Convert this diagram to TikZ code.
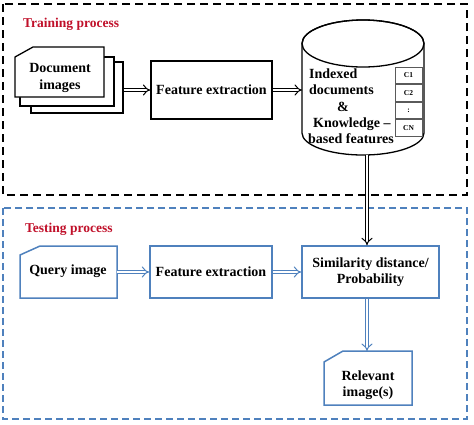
\documentclass[tikz,border=0pt]{standalone}
\usepackage{fontspec}
\setmainfont{Liberation Serif}
\usetikzlibrary{arrows.meta,calc,positioning}
\definecolor{boxblue}{RGB}{79,129,189}
\definecolor{titlered}{RGB}{192,16,42}
\definecolor{cellgray}{RGB}{90,90,90}
\begin{document}
\begin{tikzpicture}[x=1pt,y=1pt,
  txt/.style={font=\fontsize{14}{16.5}\selectfont\bfseries, align=center, inner sep=0pt},
  ttl/.style={font=\fontsize{13.5}{16}\selectfont\bfseries, text=titlered, anchor=west, inner sep=0pt},
  blackbox/.style={draw=black, line width=1.3pt, fill=white},
  bluebox/.style={draw=boxblue, line width=1.5pt, fill=white, line join=miter},
  blkarrow/.style={draw=black, double=white, double distance=2.8pt, line width=1pt, -{Implies[scale=1.3]}},
  bluarrow/.style={draw=boxblue, double=white, double distance=2.8pt, line width=1pt, -{Implies[scale=1.3]}},
  cell/.style={draw=cellgray, line width=0.8pt, minimum width=27pt, minimum height=16.75pt, inner sep=0pt, font=\fontsize{7.5}{8}\selectfont\bfseries}
]
\useasboundingbox (0,0) rectangle (474,-424);

% group frames
\draw[black, line width=1.5pt, dash pattern=on 8pt off 5pt] (3,-4) rectangle (467,-195);
\draw[boxblue, line width=1.3pt, dash pattern=on 7pt off 4pt] (3,-208) rectangle (467,-419);

\node[ttl] (ttrain) at (23,-24) {Training process};
\node[ttl] (ttest) at (25,-229) {Testing process};

% document stack
\node[blackbox, minimum width=92pt, minimum height=51pt, inner sep=0pt] (doc3) at (77,-87.5) {};
\node[blackbox, minimum width=94pt, minimum height=49pt, inner sep=0pt] (doc2) at (67,-81.5) {};
\draw[blackbox] (15,-57) -- (33,-47) -- (104,-47) -- (104,-97) -- (15,-97) -- cycle;
\node[txt] (doc1) at (60,-78) {Document\\images};

% training feature extraction
\node[blackbox, minimum width=121pt, minimum height=58pt, inner sep=0pt] (fe1) at (211.5,-90) {};
\node[txt] (fe1t) at (fe1) {Feature extraction};

% cylinder
\draw[blackbox] (302,-43.5) -- (302,-133) arc[start angle=180, end angle=360, x radius=61, y radius=22] -- (424,-43.5) arc[start angle=0, end angle=180, x radius=61, y radius=23.5];
\draw[black, line width=1.3pt] (363,-43.5) ellipse[x radius=61, y radius=23.5];
\coordinate (cylW) at (302,-90);
\coordinate (cylS) at (367,-155);

\node[cell] (c1) at (408.5,-75.4) {C1};
\node[cell, below=0pt of c1] (c2) {C2};
\node[cell, below=0pt of c2] (c3) {:};
\node[cell, below=0pt of c3] (c4) {CN};

\node[txt, anchor=base west] (l1) at (309,-78) {Indexed};
\node[txt, anchor=base west] (l2) at (309,-94.5) {documents};
\node[txt, anchor=base west] (l3) at (337,-111) {\&};
\node[txt, anchor=base west] (l4) at (313,-127.5) {Knowledge –};
\node[txt, anchor=base west] (l5) at (308,-143) {based features};

% testing
\draw[bluebox] (20,-255) -- (40,-246) -- (117,-246) -- (117,-298) -- (20,-298) -- cycle;
\node[txt] (query) at (68,-271) {Query image};
\coordinate (queryE) at (117,-272);

\node[bluebox, minimum width=122pt, minimum height=52pt, inner sep=0pt] (fe2) at (211,-272) {};
\node[txt] (fe2t) at (fe2) {Feature extraction};

\node[bluebox, minimum width=137pt, minimum height=52pt, inner sep=0pt] (sim) at (370.5,-272) {};
\node[txt] (simt) at (370.5,-272) {Similarity distance/\\Probability};

\draw[bluebox] (324,-362) -- (343,-351) -- (412,-351) -- (412,-405) -- (324,-405) -- cycle;
\node[txt] (rel) at (368,-385) {Relevant\\image(s)};
\coordinate (relN) at (367,-351);

% connectors
\draw[blkarrow] (doc3.east |- fe1.west) -- (fe1.west);
\draw[blkarrow] (fe1.east) -- (cylW);
\draw[blkarrow] (cylS) -- (cylS |- sim.north);
\draw[bluarrow] (queryE) -- (fe2.west);
\draw[bluarrow] (fe2.east) -- (sim.west);
\draw[bluarrow] (cylS |- sim.south) -- (relN);
\end{tikzpicture}
\end{document}
